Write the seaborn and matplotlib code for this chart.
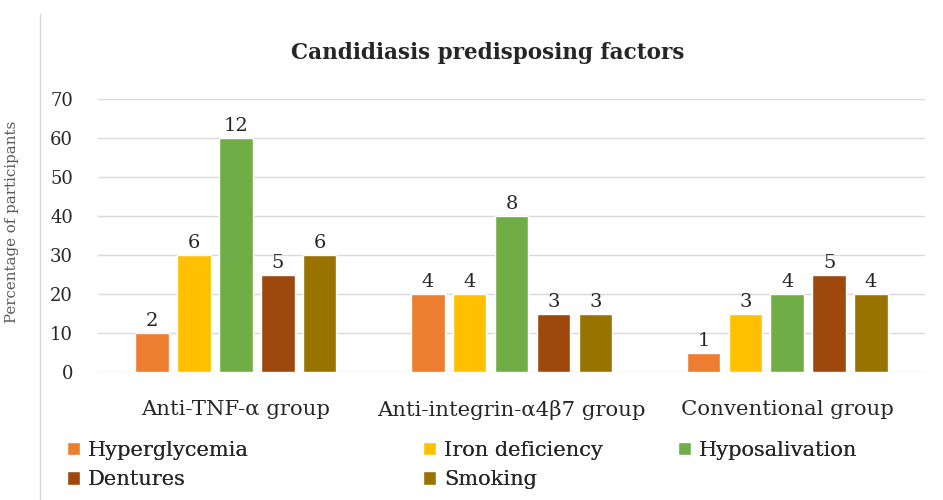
import pandas as pd
import matplotlib.pyplot as plt
import seaborn as sns
from matplotlib.lines import Line2D

# data
groups = ["Anti-TNF-\u03b1 group", "Anti-integrin-\u03b14\u03b27 group", "Conventional group"]
factors = ["Hyperglycemia", "Iron deficiency", "Hyposalivation", "Dentures", "Smoking"]
hyperglycemia = [10, 20, 5]
iron_deficiency = [30, 20, 15]
hyposalivation = [60, 40, 20]
dentures = [25, 15, 25]
smoking = [30, 15, 20]
# participant counts shown above bars
hyperglycemia_n = [2, 4, 1]
iron_deficiency_n = [6, 4, 3]
hyposalivation_n = [12, 8, 4]
dentures_n = [5, 3, 5]
smoking_n = [6, 3, 4]

colors = ["#ED7D31", "#FFC000", "#70AD47", "#9E480E", "#997300"]

pct = [hyperglycemia, iron_deficiency, hyposalivation, dentures, smoking]
counts = [hyperglycemia_n, iron_deficiency_n, hyposalivation_n, dentures_n, smoking_n]

rows = []
for f, vals in zip(factors, pct):
    for g, v in zip(groups, vals):
        rows.append({"group": g, "factor": f, "pct": v})
df = pd.DataFrame(rows)

sns.set_style("white")
plt.rcParams["font.family"] = ["DejaVu Serif"]

fig = plt.figure(figsize=(9.43, 5.0), dpi=100)
ax = fig.add_axes([0.104, 0.256, 0.877, 0.546])

sns.barplot(data=df, x="group", y="pct", hue="factor", order=groups,
            hue_order=factors, palette=colors, width=0.76, gap=0.2,
            saturation=1, ax=ax)

for cont, lab in zip(ax.containers, counts):
    ax.bar_label(cont, labels=[str(x) for x in lab], padding=2,
                 fontsize=14, color="#262626")

ax.set_ylim(0, 70)
ax.set_xlim(-0.5, 2.5)
ax.set_yticks(range(0, 71, 10))
ax.yaxis.grid(True, color="#D9D9D9", linewidth=1)
ax.set_axisbelow(True)
for s in ax.spines.values():
    s.set_visible(False)
ax.tick_params(axis="both", length=0, colors="#262626")
ax.tick_params(axis="y", labelsize=13, pad=18)
ax.tick_params(axis="x", labelsize=15.3, pad=20)
ax.set_xlabel("")
ax.set_ylabel("Percentage of participants", fontsize=10.8, color="#595959")
ax.yaxis.set_label_coords(-0.0955, 0.55)

fig.suptitle("Candidiasis predisposing factors", x=0.5175, y=0.894, va="center",
             fontsize=15.5, fontweight="bold")

handles, labels = ax.get_legend_handles_labels()
ax.get_legend().remove()

# legend laid out in three columns, like the original
leg_cols = [([0, 3], 0.071), ([1, 4], 0.4486), ([2], 0.719)]
for idx, xpos in leg_cols:
    lg = fig.legend([handles[i] for i in idx], [labels[i] for i in idx],
                    loc="upper left", bbox_to_anchor=(xpos, 0.118),
                    frameon=False, fontsize=15, handlelength=0.62,
                    handleheight=0.62, handletextpad=0.38, labelspacing=0.5,
                    borderpad=0, borderaxespad=0)
    fig.add_artist(lg)

# thin frame line at the left of the chart
fig.add_artist(Line2D([0.0424, 0.0424], [0.0, 0.972], color="#D9D9D9", linewidth=1))

fig.savefig("out.png", dpi=100)
